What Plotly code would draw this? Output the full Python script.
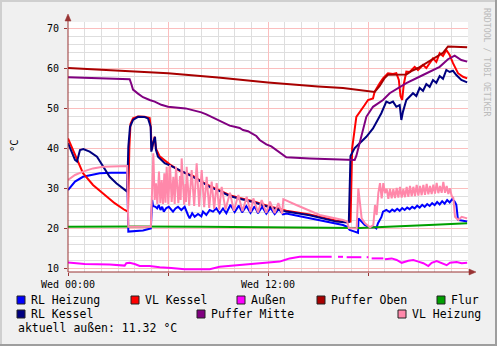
import plotly.graph_objects as go

# ---------------- data (hours since Wed 00:00, °C) ----------------
RL_HEIZUNG = [(0, 29.5), (0.42, 31.6), (0.9, 32.8), (1.5, 33.25), (1.9, 33.7), (2.6, 33.8), (3.55, 33.8),
              (3.62, 19.1), (4.0, 19.2), (4.5, 19.4), (4.97, 19.9), (5.05, 27.0), (5.1, 25.5), (5.25, 25.3),
              (5.35, 24.9), (5.45, 25.75), (5.55, 24.5), (5.65, 25.3), (5.75, 24.1), (5.9, 25.0), (6.05, 25.3),
              (6.2, 24.5), (6.3, 24.1), (6.45, 24.9), (6.6, 25.3), (6.8, 24.5), (7.0, 25.3), (7.2, 23.25),
              (7.3, 22.4), (7.45, 23.7), (7.6, 22.8), (7.8, 23.5), (8.0, 22.9), (8.1, 24.1), (8.3, 23.25),
              (8.5, 24.5), (8.7, 24.1), (8.9, 24.9), (9.1, 23.7), (9.3, 24.9), (9.5, 23.7), (9.75, 25.8),
              (10.0, 24.0), (10.25, 25.6), (10.45, 23.9), (10.7, 25.5), (10.95, 23.8), (11.2, 25.4), (11.4, 23.7),
              (11.65, 25.3), (11.9, 23.6), (12.15, 25.0), (12.4, 23.5), (12.65, 24.8), (12.9, 23.4), (13.1, 23.6),
              (14.0, 22.8), (15.1, 21.9), (16.0, 21.1), (16.5, 20.75), (16.75, 20.3), (16.9, 19.5), (17.2, 19.1),
              (17.4, 18.8), (17.43, 22.4), (17.6, 21.6), (17.8, 20.75), (18.1, 20.2), (18.4, 20.2), (18.5, 19.9),
              (18.6, 21.2), (18.8, 22.7), (18.9, 24.1), (19.1, 24.5), (19.3, 24.0), (19.45, 24.6), (19.6, 24.2),
              (19.75, 24.8), (19.9, 24.3), (20.05, 25.0), (20.2, 24.5), (20.35, 25.1), (20.5, 24.7), (20.65, 25.3),
              (20.8, 24.9), (20.95, 25.6), (21.1, 25.1), (21.25, 25.8), (21.4, 25.3), (21.55, 26.0), (21.7, 25.5),
              (21.85, 26.2), (22.0, 25.7), (22.15, 26.5), (22.3, 25.9), (22.45, 26.7), (22.6, 26.1), (22.75, 27.0),
              (22.9, 26.4), (23.05, 27.2), (23.2, 26.6), (23.3, 25.8), (23.4, 22.0), (23.7, 21.8), (23.95, 21.6)]

VL_KESSEL = [(0, 42.4), (0.42, 38.25), (0.9, 33.7), (1.5, 30.75), (2.1, 28.7), (2.8, 26.2), (3.4, 24.5),
             (3.6, 24.1), (3.68, 40.0), (3.75, 46.0), (3.9, 47.4), (4.2, 47.9), (4.6, 47.8), (4.9, 47.5),
             (4.97, 45.0), (5.02, 39.5), (5.2, 42.8), (5.28, 39.8), (5.5, 37.9), (6.1, 35.9), (6.7, 34.3),
             (7.5, 33.0), (8.1, 31.4), (8.5, 30.5), (9.1, 29.4), (9.7, 28.2), (10.3, 27.5), (11.1, 26.7),
             (12.0, 25.5), (13.1, 24.3), (14.5, 23.4), (16.1, 21.8), (16.8, 21.5), (16.95, 21.6), (17.05, 40.0),
             (17.2, 45.0), (17.3, 47.8), (17.8, 50.75), (18.0, 52.0), (18.3, 52.4), (18.4, 54.1), (18.7, 56.2),
             (18.9, 57.4), (19.1, 58.25), (19.2, 58.7), (19.5, 58.5), (19.7, 58.7), (19.85, 57.0), (19.95, 53.0),
             (20.05, 52.0), (20.15, 56.0), (20.3, 59.1), (20.5, 59.0), (20.8, 60.3), (21.0, 59.5), (21.3, 60.75),
             (21.5, 60.0), (21.9, 62.4), (22.1, 61.5), (22.3, 63.7), (22.5, 63.0), (22.7, 64.5), (22.9, 63.25),
             (23.1, 61.2), (23.4, 58.7), (23.7, 57.8), (23.95, 57.4)]

AUSSEN = [(0, 11.4), (1, 11.0), (2.5, 10.9), (3.1, 10.75), (3.4, 10.6), (3.5, 11.2), (3.7, 11.3), (4.0, 11.0),
          (4.3, 10.5), (4.9, 10.5), (5.2, 10.3), (5.5, 10.2), (6.2, 10.0), (7.0, 9.7), (8.5, 9.7), (9.1, 10.3),
          (10.3, 10.75), (12.0, 11.3), (12.7, 11.6), (13.0, 12.0), (13.3, 12.4), (13.9, 12.8), (15.1, 12.8),
          (15.82, 12.8), (15.9, None), (16.2, 12.8), (16.5, 12.8), (16.6, None), (16.72, 12.7), (17.6, 12.7),
          (17.7, None), (17.92, 12.7), (18.02, 12.7), (18.1, None), (18.22, 12.4), (18.92, 12.4), (18.97, None),
          (19.02, 12.2), (19.42, 12.4), (19.72, 12.0), (20.02, 11.3), (20.42, 11.8), (20.72, 12.0), (21.02, 11.6),
          (21.32, 11.2), (21.62, 10.5), (21.82, 11.3), (22.12, 11.75), (22.42, 11.3), (22.72, 10.7), (22.92, 11.3),
          (23.32, 11.5), (23.62, 11.2), (23.95, 11.32)]

PUFFER_OBEN = [(0, 60.0), (3, 59.4), (6, 58.7), (9, 57.6), (12, 56.4), (15, 55.4), (16.5, 55.0), (18.4, 54.0),
               (18.7, 55.5), (19.0, 57.5), (19.2, 58.3), (20.3, 58.4), (20.6, 59.2), (21.0, 60.0), (21.4, 61.0),
               (21.8, 62.0), (22.2, 63.0), (22.5, 63.8), (22.8, 65.4), (23.95, 65.2)]

FLUR = [(0, 20.3), (4, 20.4), (8, 20.3), (12, 20.2), (16, 20.1), (17.5, 20.0), (18.5, 20.2), (20, 20.4),
        (22, 20.8), (23.95, 21.2)]

RL_KESSEL = [(0, 41.2), (0.24, 38.7), (0.42, 37.0), (0.54, 36.6), (0.72, 39.5), (0.92, 39.75), (1.3, 39.1),
             (1.74, 37.8), (2.1, 35.3), (2.5, 32.8), (2.9, 31.2), (3.4, 29.5), (3.55, 29.1), (3.62, 40.3),
             (3.72, 45.3), (3.9, 47.0), (4.2, 47.8), (4.6, 47.75), (4.8, 47.4), (4.96, 45.3), (5.0, 39.1),
             (5.1, 41.2), (5.22, 42.8), (5.28, 39.5), (5.4, 37.8), (5.8, 36.2), (6.3, 35.3), (7.5, 32.8),
             (8.1, 31.2), (8.5, 30.3), (9.1, 29.2), (9.7, 28.0), (10.3, 27.3), (11.1, 26.5), (12.0, 25.3),
             (13.1, 24.1), (14.5, 23.2), (16.1, 21.6), (16.75, 21.4), (16.85, 21.5), (16.95, 38.0), (17.2, 40.0),
             (17.5, 41.2), (17.9, 42.8), (18.3, 44.9), (18.6, 47.0), (18.8, 48.7), (19.1, 51.6), (19.3, 51.2),
             (19.5, 51.6), (19.7, 50.3), (19.9, 50.75), (20.0, 47.0), (20.1, 49.1), (20.3, 52.0), (20.7, 53.7),
             (20.9, 53.0), (21.1, 55.0), (21.3, 54.3), (21.5, 56.0), (21.7, 55.3), (21.9, 57.0), (22.1, 56.3),
             (22.3, 58.0), (22.5, 57.3), (22.7, 59.5), (22.9, 59.0), (23.1, 59.3), (23.3, 58.25), (23.6, 57.0),
             (23.95, 56.4)]

PUFFER_MITTE = [(0, 57.7), (2.0, 57.5), (3.7, 57.2), (3.8, 56.0), (3.9, 54.6), (4.2, 53.6), (4.5, 52.7),
                (4.9, 52.0), (5.2, 51.6), (5.6, 50.8), (6.0, 50.3), (7.06, 49.9), (7.6, 49.4), (8.0, 48.9),
                (8.3, 48.4), (8.6, 47.8), (9.0, 47.0), (9.3, 46.4), (9.5, 46.2), (9.7, 45.6), (10.0, 45.3),
                (10.3, 45.0), (10.5, 44.5), (10.8, 44.2), (11.0, 43.7), (11.3, 43.0), (11.5, 42.0), (11.7, 41.5),
                (11.9, 40.9), (12.2, 40.4), (12.5, 39.5), (12.8, 38.7), (13.1, 37.7), (14.5, 37.4), (16.1, 37.2),
                (17.2, 37.0), (17.3, 38.0), (17.42, 40.0), (17.62, 43.7), (17.9, 47.8), (18.3, 50.3), (18.9, 52.0),
                (19.3, 53.7), (19.9, 55.3), (20.3, 56.2), (21.3, 58.25), (22.3, 60.3), (22.8, 62.2), (23.2, 63.1),
                (23.6, 62.0), (23.95, 61.6)]

VL_HEIZUNG = [(0, 32.0), (0.42, 33.25), (0.9, 34.1), (1.5, 34.9), (2.1, 35.3), (3.55, 35.5), (3.62, 20.3),
              (4.0, 20.3), (4.97, 20.3), (5.05, 30.0), (5.12, 38.7), (5.2, 27.0), (5.28, 31.2), (5.36, 26.0),
              (5.46, 34.1), (5.54, 26.2), (5.62, 32.0), (5.7, 26.0), (5.78, 33.7), (5.85, 26.3), (5.92, 35.3),
              (6.02, 26.0), (6.12, 35.75), (6.22, 26.5), (6.32, 32.8), (6.4, 26.0), (6.48, 35.3), (6.62, 26.2),
              (6.72, 33.0), (6.76, 27.0), (6.82, 37.4), (6.97, 25.8), (7.05, 31.0), (7.08, 26.5), (7.12, 35.3),
              (7.27, 25.6), (7.42, 34.5), (7.57, 25.5), (7.72, 36.2), (7.87, 25.3), (8.02, 34.5), (8.17, 25.2),
              (8.32, 32.8), (8.47, 25.0), (8.62, 31.6), (8.77, 24.8), (8.92, 31.2), (9.07, 24.6), (9.22, 30.3),
              (9.45, 24.6), (9.72, 28.8), (9.95, 24.3), (10.22, 28.25), (10.47, 24.2), (10.72, 27.8), (10.95, 24.0),
              (11.12, 27.4), (11.4, 23.9), (11.62, 27.0), (11.9, 23.8), (12.12, 26.6), (12.4, 23.7), (12.62, 26.2),
              (12.85, 23.6), (12.92, 27.2), (13.7, 25.75), (15.1, 23.25), (16.5, 22.0), (16.75, 21.6),
              (16.85, 20.0), (17.32, 19.9), (17.42, 29.9), (17.52, 25.3), (17.62, 22.4), (17.82, 21.2),
              (18.12, 20.2), (18.32, 20.75), (18.42, 25.75), (18.52, 23.25), (18.62, 28.7), (18.72, 31.2),
              (18.82, 27.4), (18.92, 31.2), (19.02, 28.7), (19.12, 29.8), (19.22, 27.3), (19.32, 29.8),
              (19.42, 27.4), (19.52, 29.7), (19.62, 27.5), (19.72, 30.0), (19.82, 27.6), (19.92, 30.3),
              (20.02, 27.6), (20.12, 29.7), (20.22, 27.7), (20.32, 30.3), (20.42, 27.8), (20.52, 30.5),
              (20.62, 27.9), (20.72, 30.3), (20.82, 28.0), (20.92, 30.8), (21.02, 28.1), (21.12, 30.5),
              (21.22, 28.2), (21.32, 30.8), (21.42, 28.3), (21.52, 31.0), (21.62, 28.4), (21.72, 30.5),
              (21.82, 28.5), (21.92, 30.8), (22.02, 28.6), (22.12, 31.3), (22.22, 28.7), (22.32, 30.5),
              (22.42, 28.8), (22.52, 31.5), (22.62, 28.8), (22.72, 30.5), (22.82, 28.5), (22.92, 29.9),
              (23.02, 28.0), (23.12, 27.5), (23.22, 22.8), (23.42, 22.0), (23.62, 22.8), (23.95, 22.4)]

X_TICKS = [0, 6, 12, 18]
X_TICKTEXT = ["Wed 00:00", "", "Wed 12:00", ""]
Y_TICKS = [10, 20, 30, 40, 50, 60, 70]
CURRENT_OUTSIDE = 11.32

# draw order = legend order (RRD)
SERIES = [
    ("RL Heizung", "#0000FF", RL_HEIZUNG),
    ("VL Kessel", "#FF0000", VL_KESSEL),
    ("Außen", "#FF00FF", AUSSEN),
    ("Puffer Oben", "#A80000", PUFFER_OBEN),
    ("Flur", "#00A000", FLUR),
    ("RL Kessel", "#000080", RL_KESSEL),
    ("Puffer Mitte", "#800080", PUFFER_MITTE),
    ("VL Heizung", "#FF88AA", VL_HEIZUNG),
]

# ---------------- layout geometry (pixels) ----------------
W, H = 497, 346
L, R, T, B = 68, 29, 22, 74
PW, PH = W - L - R, H - T - B
FONT = "DejaVu Sans Mono"
AXIS_COLOR = "#993333"


def px(x):
    return (x - L) / PW


def py(y):
    return (H - B - y) / PH


fig = go.Figure()
for name, color, data in SERIES:
    fig.add_trace(go.Scatter(
        x=[p[0] for p in data], y=[p[1] for p in data], mode="lines", name=name,
        line=dict(color=color, width=2), hoverinfo="skip", showlegend=False))

shapes = []
# frame shading
shapes.append(dict(type="rect", xref="paper", yref="paper", x0=px(0), x1=px(W), y0=py(2), y1=py(0),
                   fillcolor="#CFCFCF", line=dict(width=0), layer="below"))
shapes.append(dict(type="rect", xref="paper", yref="paper", x0=px(0), x1=px(2), y0=py(H), y1=py(0),
                   fillcolor="#CFCFCF", line=dict(width=0), layer="below"))
shapes.append(dict(type="rect", xref="paper", yref="paper", x0=px(0), x1=px(W), y0=py(H), y1=py(H - 2),
                   fillcolor="#9E9E9E", line=dict(width=0), layer="below"))
shapes.append(dict(type="rect", xref="paper", yref="paper", x0=px(W - 2), x1=px(W), y0=py(H), y1=py(0),
                   fillcolor="#9E9E9E", line=dict(width=0), layer="below"))
# axes with arrows
shapes.append(dict(type="line", xref="paper", yref="paper", x0=0, x1=0, y0=0, y1=py(19),
                   line=dict(color=AXIS_COLOR, width=1)))
shapes.append(dict(type="line", xref="paper", yref="paper", x0=0, x1=px(471), y0=0, y1=0,
                   line=dict(color=AXIS_COLOR, width=1)))
shapes.append(dict(type="path", xref="paper", yref="paper",
                   path=f"M {px(65)} {py(21)} L {px(71)} {py(21)} L {px(68)} {py(14)} Z",
                   fillcolor=AXIS_COLOR, line=dict(color=AXIS_COLOR, width=0.5)))
shapes.append(dict(type="path", xref="paper", yref="paper",
                   path=f"M {px(469)} {py(269)} L {px(469)} {py(275)} L {px(476)} {py(272)} Z",
                   fillcolor=AXIS_COLOR, line=dict(color=AXIS_COLOR, width=0.5)))

annotations = []
# legend (RRD style)
legend_pos = {
    "RL Heizung": (17, 300), "VL Kessel": (131, 300), "Außen": (237, 300), "Puffer Oben": (317, 300),
    "Flur": (437, 300), "RL Kessel": (17, 314), "Puffer Mitte": (197, 314), "VL Heizung": (398, 314),
}
for name, color, _ in SERIES:
    x0, yc = legend_pos[name]
    shapes.append(dict(type="rect", xref="paper", yref="paper", x0=px(x0), x1=px(x0 + 8),
                       y0=py(yc + 4), y1=py(yc - 4), fillcolor=color, line=dict(color="#222222", width=1)))
    annotations.append(dict(text=name, xref="paper", yref="paper", x=px(x0 + 13), y=py(yc),
                            xanchor="left", yanchor="middle", showarrow=False, borderpad=0,
                            font=dict(family=FONT, size=11.5, color="#000000")))
annotations.append(dict(text=f"aktuell außen: {CURRENT_OUTSIDE:.2f} °C", xref="paper", yref="paper",
                        x=px(17), y=py(328), xanchor="left", yanchor="middle", showarrow=False, borderpad=0,
                        font=dict(family=FONT, size=11.5, color="#000000")))
annotations.append(dict(text="°C", xref="paper", yref="paper", x=px(14), y=py(146), textangle=-90,
                        xanchor="center", yanchor="middle", showarrow=False, borderpad=0,
                        font=dict(family=FONT, size=10.5, color="#000000")))
annotations.append(dict(text="RRDTOOL / TOBI OETIKER", xref="paper", yref="paper", x=px(487), y=py(62),
                        textangle=90, xanchor="center", yanchor="middle", showarrow=False, borderpad=0,
                        font=dict(family=FONT, size=8.2, color="#BBBBBB")))

fig.update_layout(
    width=W, height=H, autosize=False,
    margin=dict(l=L, r=R, t=T, b=B, pad=0),
    paper_bgcolor="#F0F0F0", plot_bgcolor="#FFFFFF",
    shapes=shapes, annotations=annotations, showlegend=False,
    font=dict(family=FONT, size=10, color="#000000"),
)
fig.update_xaxes(
    range=[0, 24], tickmode="array", tickvals=X_TICKS, ticktext=X_TICKTEXT,
    showgrid=True, gridcolor="#FBBEBE", gridwidth=1, zeroline=False, showline=False,
    ticks="outside", ticklen=3, tickcolor=AXIS_COLOR, tickfont=dict(family=FONT, size=10, color="#000000"),
    minor=dict(dtick=1, tick0=0, showgrid=True, gridcolor="#DEDEDE", gridwidth=1),
    fixedrange=True,
)
fig.update_yaxes(
    range=[9, 71.5], tickmode="array", tickvals=Y_TICKS, ticktext=[str(v) for v in Y_TICKS],
    showgrid=True, gridcolor="#FBBEBE", gridwidth=1, zeroline=False, showline=False,
    ticks="outside", ticklen=3, tickcolor=AXIS_COLOR, ticklabelstandoff=3,
    tickfont=dict(family=FONT, size=10, color="#000000"),
    minor=dict(dtick=2, tick0=0, showgrid=True, gridcolor="#DEDEDE", gridwidth=1),
    fixedrange=True,
)

fig.write_html("out.html")
